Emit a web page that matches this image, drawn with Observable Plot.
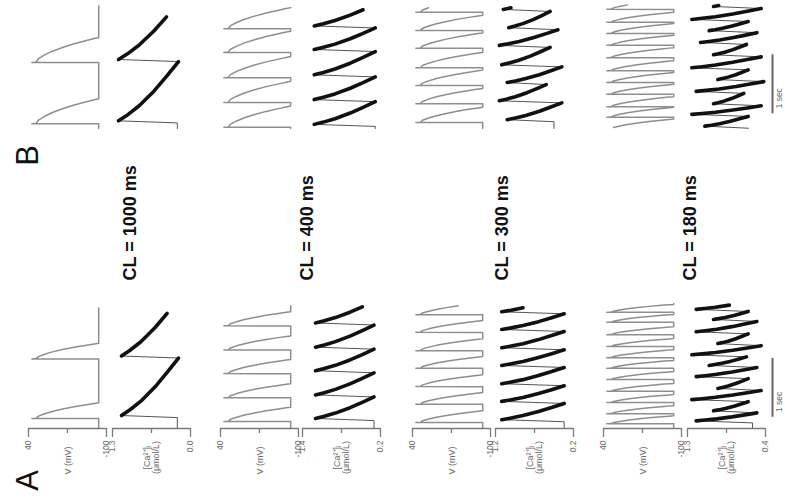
<!DOCTYPE html>
<html><head><meta charset="utf-8">
<script src="https://cdn.jsdelivr.net/npm/d3@7"></script>
<script src="https://cdn.jsdelivr.net/npm/@observablehq/plot@0.6"></script>
<style>
body{margin:0;background:#fff}
#fig{position:relative;width:785px;height:503px;overflow:hidden;font-family:"Liberation Sans",Arial,sans-serif}
#fig svg{position:absolute;overflow:visible}
</style></head><body><div id="fig"></div><script>
// ---------- data ----------
const cycleLengths = [1000, 400, 300, 180];           // ms
const rowLabels = ["CL = 1000 ms", "CL = 400 ms", "CL = 300 ms", "CL = 180 ms"];
const vTicks = [40, -100];                           // mV
const caTicks = [[1.3, 0.0], [1.4, 0.2], [1.2, 0.2], [1.3, 0.4]]; // µmol/L
const vLabel = "V (mV)";
const caLabel = "[Ca²⁺]ᵢ\n(μmol/L)";
const scaleLabel = "1 sec";
const panelLabels = ["A", "B"];

// upstroke times (s)
const beatsA = [
  [0.17, 1.18],
  [0.12, 0.52, 0.93, 1.33, 1.74],
  [0.10, 0.41, 0.71, 1.02, 1.32, 1.63, 1.93],
  [0.08, 0.25, 0.44, 0.63, 0.83, 1.02, 1.20, 1.39, 1.59, 1.80, 1.97]
];
const beatsB = [
  [0.08, 1.12],
  [0.02, 0.44, 0.86, 1.29, 1.69],
  [0.10, 0.42, 0.73, 1.03, 1.36, 1.66, 1.97],
  [-0.01, 0.19, 0.37, 0.58, 0.78, 0.98, 1.20, 1.41, 1.61, 1.80, 2.02]
];
const traceEndA = [2.05, 2.08, 2.08, 2.12]; // s
const traceEndB = [2.08, 2.05, 2.08, 2.10];
// action potential durations (ms)
const apdA = [265, 240, 200, 135];
const apdB = [425, 360, 260, 170];
// AP waveform: [fraction of APD, mV]
const apShape = [[0, -86], [0.003, 34], [0.02, 26], [0.15, 22], [0.3, 11], [0.45, -3],
                 [0.6, -21], [0.75, -42], [0.88, -64], [0.96, -78], [1, -86]];
const restV = -86;
// Ca transients: peak per beat, diastolic level before each beat (+ final)
const caPeakA = [
  [1.15, 1.15],
  [1.2, 1.2, 1.2, 1.2, 1.2],
  [1.12, 1.12, 1.12, 1.12, 1.12, 1.12, 1.12],
  [1.2, 1.0, 1.25, 0.95, 1.2, 1.05, 1.25, 0.95, 1.2, 1.0, 1.2]
];
const caDiaA = [
  [0.22, 0.2, 0.2],
  [0.3, 0.3, 0.3, 0.3, 0.3, 0.3],
  [0.32, 0.32, 0.32, 0.32, 0.32, 0.32, 0.32, 0.32],
  [0.55, 0.5, 0.6, 0.45, 0.6, 0.5, 0.62, 0.45, 0.6, 0.5, 0.6, 0.55]
];
const caPeakB = [
  [1.2, 1.2],
  [1.22, 1.22, 1.22, 1.22, 1.22],
  [1.05, 1.15, 1.05, 1.12, 1.15, 1.03, 1.1],
  [1.1, 1.25, 1.0, 1.2, 0.95, 1.25, 1.0, 1.15, 1.05, 1.25, 1.0]
];
const caDiaB = [
  [0.22, 0.2, 0.2],
  [0.28, 0.28, 0.28, 0.28, 0.28, 0.28],
  [0.45, 0.35, 0.55, 0.35, 0.5, 0.4, 0.5, 0.45],
  [0.6, 0.6, 0.45, 0.65, 0.42, 0.6, 0.45, 0.62, 0.5, 0.6, 0.45, 0.6]
];
const caDelay = 15, caRise = 35; // ms
// decay: [fraction of interval, fraction of amplitude remaining]
const caDecay = [[0, 1], [0.1, 0.85], [0.25, 0.66], [0.5, 0.41], [0.75, 0.2], [1, 0]];
const scaleBar = [[0.19, 1.19], [0.25, 1.25]]; // s, per panel

// ---------- layout ----------
const tMax = 2.12, plotH = 125, W = 78, pad = 10;
const panelBottom = [428, 128];
const vLeft = [28, 220, 412, 603];
const caLeft = [112, 302, 495, 687];
const axisColor = "#7a7a7a", labelColor = "#6a6a6a";
const font = "'Liberation Sans', Arial, sans-serif";
const fig = document.getElementById("fig");

function vTrace(beats, apd, tEnd) {
  const pts = [];
  if (beats[0] > 0) pts.push({t: 0, v: restV});
  for (const b of beats) for (const [f, v] of apShape) pts.push({t: b + f * apd / 1000, v});
  const last = pts[pts.length - 1];
  if (last.t < tEnd) pts.push({t: tEnd, v: restV});
  return pts.filter(p => p.t >= 0 && p.t <= tEnd);
}
function caTrace(beats, peaks, dias, cl, tEnd) {
  const thin = [{t: 0, c: dias[0], k: -1}], thick = [];
  beats.forEach((b, k) => {
    const next = k + 1 < beats.length ? beats[k + 1] : b + cl / 1000;
    const d0 = dias[k], d1 = dias[k + 1];
    thin.push({t: b + caDelay / 1000, c: d0});
    const tp = b + (caDelay + caRise) / 1000;
    for (const [f, a] of caDecay) {
      const p = {t: tp + f * (next + caDelay / 1000 - tp), c: d1 + (peaks[k] - d1) * a, k};
      thin.push(p); thick.push(p);
    }
  });
  const keep = p => p.t >= 0 && p.t <= tEnd;
  return {thin: thin.filter(keep), thick: thick.filter(keep)};
}

function place(svg, left, top) {
  svg.style.left = left + "px"; svg.style.top = top + "px";
  fig.appendChild(svg);
}
const tickDrop = 9 / (plotH / tMax), midDrop = 5 / (plotH / tMax); // in time units below t = 0
function axisMarks(domain, mid, label, dy, fmt) {
  return [
    Plot.ruleY([0], {stroke: axisColor, strokeWidth: 1.3}),
    Plot.ruleX(domain, {y1: 0, y2: -tickDrop, stroke: axisColor, strokeWidth: 1.3}),
    Plot.ruleX([mid], {y1: 0, y2: -midDrop, stroke: axisColor, strokeWidth: 1.3}),
    Plot.text(domain, {x: d => d, text: fmt, frameAnchor: "bottom", dy: 12, rotate: -90,
      textAnchor: "end", lineAnchor: "middle", fontSize: 8.5, fill: labelColor}),
    Plot.text([label], {x: () => mid, text: d => d, frameAnchor: "bottom", dy, rotate: -90,
      textAnchor: "middle", lineAnchor: "middle", lineHeight: 1.05, fontSize: 9, fill: labelColor})
  ];
}

for (let panel = 0; panel < 2; panel++) {
  const beats = panel === 0 ? beatsA : beatsB;
  const ends = panel === 0 ? traceEndA : traceEndB;
  const apds = panel === 0 ? apdA : apdB;
  const peaks = panel === 0 ? caPeakA : caPeakB;
  const dias = panel === 0 ? caDiaA : caDiaB;
  const withAxis = panel === 0;
  const mb = withAxis ? 60 : 0;
  const top = panelBottom[panel] - plotH;
  for (let r = 0; r < 4; r++) {
    // membrane potential
    const v = vTrace(beats[r], apds[r], ends[r]);
    place(Plot.plot({
      width: W + 2 * pad, height: plotH + mb, marginLeft: pad, marginRight: pad, marginTop: 0, marginBottom: mb,
      style: {fontFamily: font, background: "transparent", overflow: "visible"},
      x: {domain: [vTicks[0], vTicks[1]], axis: null, label: null},
      y: {domain: [0, tMax], axis: null, label: null},
      marks: [
        Plot.line(v, {x: "v", y: "t", stroke: "#8e8e8e", strokeWidth: 1.5, curve: "linear"}),
        ...(withAxis ? axisMarks(vTicks, (vTicks[0] + vTicks[1]) / 2, vLabel, 32,
              d => String(d)) : [])
      ]
    }), vLeft[r] - pad, top);
    // calcium
    const ca = caTrace(beats[r], peaks[r], dias[r], cycleLengths[r], ends[r]);
    const [hi, lo] = caTicks[r];
    place(Plot.plot({
      width: W + 2 * pad, height: plotH + mb, marginLeft: pad, marginRight: pad, marginTop: 0, marginBottom: mb,
      style: {fontFamily: font, background: "transparent", overflow: "visible"},
      x: {domain: [hi, lo], axis: null, label: null},
      y: {domain: [0, tMax], axis: null, label: null},
      marks: [
        Plot.line(ca.thin, {x: "c", y: "t", stroke: "#555", strokeWidth: 1}),
        Plot.line(ca.thick, {x: "c", y: "t", z: "k", stroke: "#111", strokeWidth: 3.6,
          strokeLinecap: "round", strokeLinejoin: "round"}),
        ...(withAxis ? axisMarks([hi, lo], (hi + lo) / 2, caLabel, 29, d => d.toFixed(1)) : [])
      ]
    }), caLeft[r] - pad, top);
  }
  // 1 sec scale bar
  place(Plot.plot({
    width: 20, height: plotH, margin: 0,
    style: {fontFamily: font, background: "transparent", overflow: "visible"},
    x: {domain: [0, 20], range: [0, 20], axis: null},
    y: {domain: [0, tMax], axis: null},
    marks: [
      Plot.ruleX([7], {y1: scaleBar[panel][0], y2: scaleBar[panel][1], stroke: "#666", strokeWidth: 2}),
      Plot.text([scaleLabel], {x: () => 10, y: () => scaleBar[panel][0] + 0.09, text: d => d, rotate: -90,
        textAnchor: "start", lineAnchor: "top", fontSize: 8.5, fill: labelColor})
    ]
  }), 765, top);
}

// labels (row titles and panel letters), pixel-positioned
const labelX = [135, 312, 507, 695];
place(Plot.plot({
  width: 785, height: 503, margin: 0,
  style: {fontFamily: font, background: "transparent", overflow: "visible"},
  x: {type: "identity"}, y: {type: "identity"},
  marks: [
    Plot.text(rowLabels, {x: (d, i) => labelX[i], y: () => 280, text: d => d, rotate: -90,
      textAnchor: "start", lineAnchor: "bottom", fontSize: 18, fontWeight: "bold", fill: "#111"}),
    Plot.text(panelLabels, {x: () => 37, y: (d, i) => [480, 155][i], text: d => d, rotate: -90,
      textAnchor: "middle", lineAnchor: "bottom", fontSize: 31, fill: "#111"})
  ]
}), 0, 0);
</script></body></html>
